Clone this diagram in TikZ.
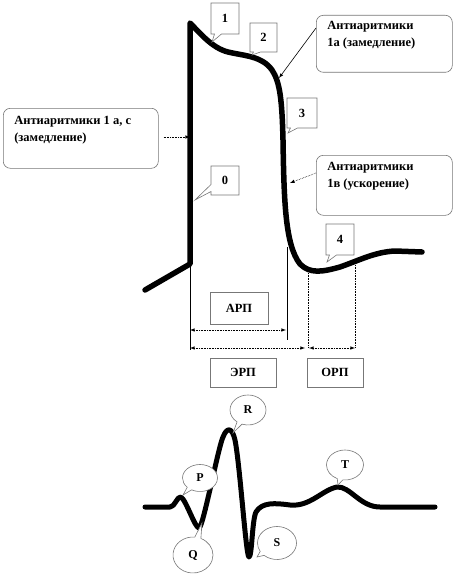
\documentclass[tikz,border=0pt]{standalone}
\usepackage{fontspec}
\setmainfont{Liberation Serif}
\usepackage{tikz}
\usetikzlibrary{shapes.callouts,shapes.geometric,arrows}
\definecolor{ink}  {HTML}{000000}
\definecolor{frame}{HTML}{777777}
\tikzset{
  >=latex,
  every node/.style={font=\bfseries\fontsize{12.5}{17}\selectfont},
  % --- nodes
  note/.style   = {draw=frame, rounded corners=7pt, line width=0.6pt, fill=white,
                   anchor=north west, inner xsep=11pt, inner ysep=8pt},
  tag/.style    = {rectangle callout, draw=frame, fill=white, line width=0.6pt,
                   inner sep=0pt, callout pointer width=7pt,
                   font=\bfseries\fontsize{12.5}{12}\selectfont},
  bubble/.style = {ellipse callout, draw=frame, fill=white, line width=0.6pt,
                   inner sep=0pt, callout pointer arc=18,
                   font=\bfseries\fontsize{12}{12}\selectfont},
  span/.style   = {draw=frame, line width=0.6pt, fill=white, inner sep=0pt},
  % --- edges
  curve/.style  = {draw=ink, line width=5.5pt, line join=round, line cap=round},
  ptr/.style    = {->, draw=ink, line width=0.6pt},
  dim/.style    = {<->, draw=ink, line width=0.6pt, densely dotted},
  rule/.style   = {draw=ink, line width=0.6pt},
}
\begin{document}
\begin{tikzpicture}[x=1pt,y=-1pt]
  \useasboundingbox (0,0) rectangle (457,578);

  % action potential
  \draw[curve] (145,290) -- (190,264) -- (190,23)
    .. controls (200,33) and (212,48) .. (228,52)
    .. controls (245,56) and (262,56) .. (272,70)
    .. controls (280,82) and (282,100) .. (283,140)
    .. controls (284,200) and (285,245) .. (300,264)
    .. controls (310,274) and (322,272) .. (340,267)
    .. controls (360,260) and (375,252) .. (395,251) -- (422,252);

  % ecg
  \draw[curve, line width=5pt] (145,507) -- (170,507)
    .. controls (175,507) and (177,496) .. (181,497)
    .. controls (186,500) and (195,528) .. (199,528)
    .. controls (203,528) and (218,448) .. (223,437)
    .. controls (227,427) and (232,427) .. (235,440)
    .. controls (240,465) and (246,557) .. (249,557)
    .. controls (252,557) and (252,520) .. (256,512)
    .. controls (262,502) and (275,503) .. (290,505)
    .. controls (310,507) and (322,490) .. (337,487)
    .. controls (350,486) and (360,507) .. (380,507) -- (435,507);

  % points on the curves
  \coordinate (p1) at (212,42);
  \coordinate (p2) at (252,55);
  \coordinate (p3) at (288,133);
  \coordinate (p0) at (195,200);
  \coordinate (p4) at (327,262);
  \coordinate (hitL)  at (190,137);
  \coordinate (hitT)  at (279,78);
  \coordinate (hitB)  at (290,183);
  \coordinate (pkP) at (183,495);
  \coordinate (pkQ) at (202,523);
  \coordinate (pkR) at (233,433);
  \coordinate (pkS) at (257,557);
  \coordinate (pkT) at (338,485);

  % drug boxes
  \node[note] (lbox) at (3,108)
    {\parbox[t][44pt][t]{133pt}{Антиаритмики 1 а, с\\(замедление)}};
  \node[note, inner ysep=6pt] (ratop) at (316,15)
    {\parbox[t][45pt][t]{114pt}{Антиаритмики\\1а (замедление)}};
  \node[note, inner ysep=7pt] (rabot) at (316,155)
    {\parbox[t][46pt][t]{114pt}{Антиаритмики\\1в (ускорение)}};
  \draw[ptr, densely dotted, shorten <=5pt] (lbox.east |- hitL) -- (hitL);
  \draw[ptr] ([yshift=-13pt]ratop.north west) -- (hitT);
  \draw[ptr, densely dotted] ([yshift=-18pt]rabot.north west) -- (hitB);

  % phase tags
  \node[tag, minimum width=28pt, minimum height=31pt, callout absolute pointer={(p1)}] (c1) at (225,18.5) {1};
  \node[tag, minimum width=27pt, minimum height=29pt, callout absolute pointer={(p2)}] (c2) at (263.5,37.5) {2};
  \node[tag, minimum width=30pt, minimum height=30pt, callout absolute pointer={(p3)}] (c3) at (302,113) {3};
  \node[tag, minimum width=28pt, minimum height=29pt, callout absolute pointer={(p0)}] (c0) at (225,180.5) {0};
  \node[tag, minimum width=28pt, minimum height=31pt, callout absolute pointer={(p4)}] (c4) at (340,239.5) {4};

  % refractory periods
  \coordinate (a0) at (190,262);  \coordinate (a1) at (190,350);
  \coordinate (b0) at (287,247);  \coordinate (b1) at (287,340);
  \coordinate (o0) at (308,273);  \coordinate (o1) at (308,348);
  \coordinate (q0) at (355,265);  \coordinate (q1) at (355,348);
  \draw[rule] (a0) -- (a1);
  \draw[rule] (b0) -- (b1);
  \draw[rule, densely dotted] (o0) -- (o1);
  \draw[rule, densely dotted] (q0) -- (q1);
  \draw[dim] (190,330) -- (286,330);
  \draw[dim] (190,348) -- (305,348);
  \draw[dim] (309,348) -- (q1);
  \node[span, minimum width=58pt, minimum height=32pt] (arp) at (239,308) {АРП};
  \node[span, minimum width=66pt, minimum height=29pt] (erp) at (243,372.5) {ЭРП};
  \node[span, minimum width=56pt, minimum height=29pt] (orp) at (335,372.5) {ОРП};

  % ecg waves
  \node[bubble, minimum width=35pt, minimum height=27pt, callout absolute pointer={(pkP)}] (wP) at (200,478) {P};
  \node[bubble, minimum width=40pt, minimum height=36pt, callout absolute pointer={(pkQ)}] (wQ) at (193,555) {Q};
  \node[bubble, minimum width=36pt, minimum height=30pt, callout absolute pointer={(pkR)}] (wR) at (248,410) {R};
  \node[bubble, minimum width=39pt, minimum height=33pt, callout absolute pointer={(pkS)}] (wS) at (277,543) {S};
  \node[bubble, minimum width=37pt, minimum height=30pt, callout absolute pointer={(pkT)}] (wT) at (345,465) {T};
\end{tikzpicture}
\end{document}
